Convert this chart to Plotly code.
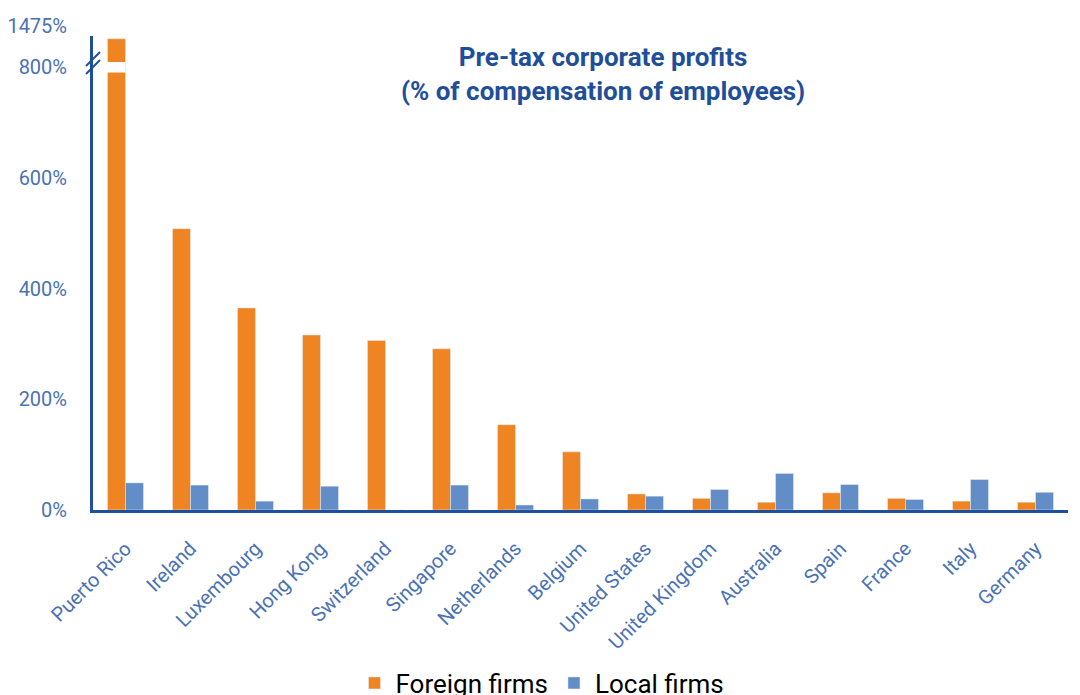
import plotly.graph_objects as go

# %% data
countries = ["Puerto Rico", "Ireland", "Luxembourg", "Hong Kong", "Switzerland",
             "Singapore", "Netherlands", "Belgium", "United States", "United Kingdom",
             "Australia", "Spain", "France", "Italy", "Germany"]
foreign_firms = [1475, 508, 365, 316, 306, 291, 154, 105, 29, 21, 14, 31, 21, 16, 14]
local_firms = [49, 45, 16, 43, 0, 45, 9, 20, 25, 37, 66, 46, 19, 55, 32]
y_ticks_low = [0, 200, 400, 600, 800]
y_ticks_high = [1475]

ORANGE = "#EE8422"
BLUE = "#638DC6"
DARK = "#1F4E9A"
TICK = "#4A72B5"

# %% figure
fig = go.Figure()
# lower (main) part of the broken axis
fig.add_trace(go.Bar(x=countries, y=foreign_firms, name="Foreign firms",
                     marker_color=ORANGE, xaxis="x", yaxis="y"))
fig.add_trace(go.Bar(x=countries, y=local_firms, name="Local firms",
                     marker_color=BLUE, xaxis="x", yaxis="y"))
# upper part, shows the top of the Puerto Rico bar
fig.add_trace(go.Bar(x=countries, y=foreign_firms, marker_color=ORANGE,
                     xaxis="x", yaxis="y2", showlegend=False))
fig.add_trace(go.Bar(x=countries, y=local_firms, marker_color=BLUE,
                     xaxis="x", yaxis="y2", showlegend=False))

low_top = 0.9451
fig.update_layout(
    width=1080, height=695,
    margin=dict(l=85, r=20, t=28, b=193, autoexpand=False),
    plot_bgcolor="white", paper_bgcolor="white",
    font=dict(family="Roboto", color=TICK),
    barmode="group", bargap=0.446, bargroupgap=0,
    title=dict(text="<b>Pre-tax corporate profits<br>(% of compensation of employees)</b>",
               x=0.551, xanchor="center", yref="container", y=0.916, yanchor="top",
               font=dict(family="Roboto", size=26, color=DARK)),
    xaxis=dict(showline=True, linecolor=DARK, linewidth=3, tickangle=-45,
               tickfont=dict(size=20, color=TICK), ticks="", showgrid=False,
               anchor="y", automargin=False, ticklabelstandoff=16),
    yaxis=dict(domain=[0, low_top], range=[0, 809], tickvals=y_ticks_low,
               ticktext=[f"{v}%" for v in y_ticks_low], showgrid=False, zeroline=False,
               showline=True, linecolor=DARK, linewidth=3, automargin=False,
               tickfont=dict(size=20, color=TICK), ticklabelstandoff=19),
    yaxis2=dict(domain=[low_top, 1], range=[1433, 1480], tickvals=y_ticks_high,
                ticktext=[f"{v}%" for v in y_ticks_high], showgrid=False, zeroline=False,
                showline=True, linecolor=DARK, linewidth=3, anchor="x", automargin=False,
                tickfont=dict(size=20, color=TICK), ticklabelstandoff=19,
                ticklabelshift=-13),
    legend=dict(orientation="h", x=0.46, xanchor="center", y=-0.365, yanchor="middle",
                font=dict(size=26, color="black"), itemwidth=32),
    showlegend=True,
)

# white gap in the Puerto Rico bar + break marks on the axis
fig.add_shape(type="rect", xref="x", yref="y", x0=-0.35, x1=0.0, y0=790, y1=812,
              fillcolor="white", line_width=0, layer="above")
for dy in (0, 8):
    fig.add_shape(type="line", xref="paper", yref="paper",
                  x0=-7 / 975, x1=7 / 975,
                  y0=(510 - 66 - dy) / 474, y1=(510 - 52 - dy) / 474,
                  line=dict(color=DARK, width=2))

fig.write_html("out.html")
